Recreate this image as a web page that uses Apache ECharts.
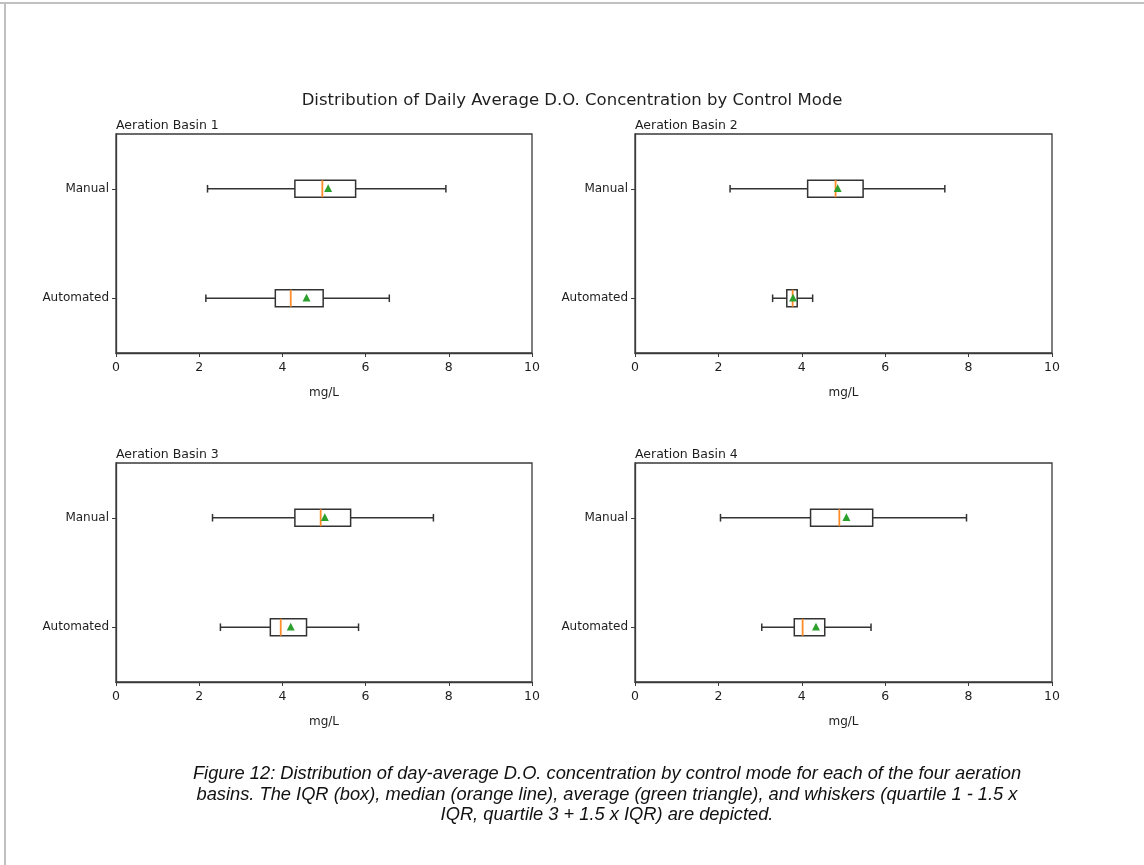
<!DOCTYPE html>
<html>
<head>
<meta charset="utf-8">
<script src="https://cdn.jsdelivr.net/npm/echarts@6/dist/echarts.min.js"></script>
<style>
html,body{margin:0;padding:0;background:#fff;}
#chart{width:1144px;height:865px;}
</style>
</head>
<body>
<div id="chart"></div>
<script>
// ---- data ----
const categories = ['Automated', 'Manual'];
const basinTitles = ['Aeration Basin 1', 'Aeration Basin 2', 'Aeration Basin 3', 'Aeration Basin 4'];
const xTicks = [0, 2, 4, 6, 8, 10];
// each row: [low whisker, Q1, median, Q3, high whisker, mean]
const basin1Automated = [2.16, 3.83, 4.20, 4.98, 6.57, 4.58];
const basin1Manual    = [2.20, 4.30, 4.96, 5.76, 7.93, 5.10];
const basin2Automated = [3.30, 3.64, 3.78, 3.89, 4.26, 3.79];
const basin2Manual    = [2.28, 4.14, 4.81, 5.47, 7.43, 4.86];
const basin3Automated = [2.51, 3.71, 3.96, 4.58, 5.83, 4.20];
const basin3Manual    = [2.32, 4.30, 4.92, 5.64, 7.63, 5.02];
const basin4Automated = [3.04, 3.82, 4.02, 4.55, 5.66, 4.34];
const basin4Manual    = [2.05, 4.21, 4.90, 5.70, 7.95, 5.07];
const figureTitle = 'Distribution of Daily Average D.O. Concentration by Control Mode';
const xAxisName = 'mg/L';
const captionLines = [
  'Figure 12: Distribution of day-average D.O. concentration by control mode for each of the four aeration',
  'basins. The IQR (box), median (orange line), average (green triangle), and whiskers (quartile 1 - 1.5 x',
  'IQR, quartile 3 + 1.5 x IQR) are depicted.'
];

const basinData = [
  [basin1Automated, basin1Manual],
  [basin2Automated, basin2Manual],
  [basin3Automated, basin3Manual],
  [basin4Automated, basin4Manual]
];

const chart = echarts.init(document.getElementById('chart'), null, {renderer: 'canvas'});

const gridPos = [
  {left: 116, top: 134, width: 416, height: 219},
  {left: 635, top: 134, width: 417, height: 219},
  {left: 116, top: 463, width: 416, height: 219},
  {left: 635, top: 463, width: 417, height: 219}
];
const FONT = 'DejaVu Sans';
const AX = '#3a3a3a';
const TXT = '#1e1e1e';

const grids = [], xAxes = [], yAxes = [], series = [], titles = [];

titles.push({
  text: figureTitle, left: 'center', top: 87,
  textStyle: {fontFamily: FONT, fontSize: 16.5, fontWeight: 'normal', color: TXT}
});

gridPos.forEach((g, i) => {
  grids.push(Object.assign({show: true, borderColor: AX, borderWidth: 1.3, backgroundColor: '#fff'}, g));
  titles.push({
    text: basinTitles[i], left: g.left - 5, top: g.top - 20,
    textStyle: {fontFamily: FONT, fontSize: 12.5, fontWeight: 'normal', color: TXT}
  });
  xAxes.push({
    type: 'value', gridIndex: i, min: 0, max: 10, interval: 2,
    name: xAxisName, nameLocation: 'middle', nameGap: 34,
    nameTextStyle: {fontFamily: FONT, fontSize: 12, color: TXT},
    axisLine: {show: true, lineStyle: {color: AX, width: 1.3}},
    axisTick: {show: true, inside: false, length: 4, lineStyle: {color: AX}},
    axisLabel: {fontFamily: FONT, fontSize: 12.5, color: TXT, margin: 8,
      formatter: v => xTicks.indexOf(v) >= 0 ? String(v) : ''},
    splitLine: {show: false}
  });
  yAxes.push({
    type: 'category', gridIndex: i, data: categories, boundaryGap: true,
    axisLine: {show: true, lineStyle: {color: AX, width: 1.3}},
    axisTick: {show: true, alignWithLabel: true, length: 4, lineStyle: {color: AX}},
    axisLabel: {fontFamily: FONT, fontSize: 12, color: TXT, margin: 7},
    splitLine: {show: false}
  });
  const rows = basinData[i].map((d, ci) => [ci].concat(d));
  series.push({
    type: 'custom', xAxisIndex: i, yAxisIndex: i,
    encode: {x: [1, 2, 3, 4, 5, 6], y: 0},
    data: rows,
    renderItem: function (params, api) {
      const c = api.value(0);
      const pLo = api.coord([api.value(1), c]);
      const pQ1 = api.coord([api.value(2), c]);
      const pMed = api.coord([api.value(3), c]);
      const pQ3 = api.coord([api.value(4), c]);
      const pHi = api.coord([api.value(5), c]);
      const pMean = api.coord([api.value(6), c]);
      const y = pQ1[1];
      const hb = 8.5, hc = 3.8;
      const black = {stroke: '#333', lineWidth: 1.5, fill: null};
      return {
        type: 'group',
        children: [
          {type: 'line', shape: {x1: pLo[0], y1: y, x2: pQ1[0], y2: y}, style: black},
          {type: 'line', shape: {x1: pQ3[0], y1: y, x2: pHi[0], y2: y}, style: black},
          {type: 'line', shape: {x1: pLo[0], y1: y - hc, x2: pLo[0], y2: y + hc}, style: black},
          {type: 'line', shape: {x1: pHi[0], y1: y - hc, x2: pHi[0], y2: y + hc}, style: black},
          {type: 'rect', shape: {x: pQ1[0], y: y - hb, width: pQ3[0] - pQ1[0], height: 2 * hb}, style: {stroke: '#333', lineWidth: 1.5, fill: 'transparent'}},
          {type: 'line', shape: {x1: pMed[0], y1: y - hb, x2: pMed[0], y2: y + hb}, style: {stroke: '#ff8c28', lineWidth: 1.8}},
          {type: 'polygon', shape: {points: [[pMean[0], y - 4.5], [pMean[0] - 4, y + 3.2], [pMean[0] + 4, y + 3.2]]}, style: {fill: '#2ca02c', stroke: null}}
        ]
      };
    }
  });
});

const graphics = [
  {type: 'line', shape: {x1: 0, y1: 3, x2: 1144, y2: 3}, style: {stroke: '#c0c0c0', lineWidth: 2}},
  {type: 'line', shape: {x1: 5, y1: 3, x2: 5, y2: 865}, style: {stroke: '#c0c0c0', lineWidth: 2}}
];
captionLines.forEach((t, i) => {
  graphics.push({
    type: 'text', x: 607, y: 765 + i * 20.5,
    style: {text: t, font: 'italic 18.3px "Liberation Sans", Arial, sans-serif', fill: '#111', textAlign: 'center', textVerticalAlign: 'top'}
  });
});

chart.setOption({
  backgroundColor: '#fff',
  animation: false,
  title: titles,
  grid: grids,
  xAxis: xAxes,
  yAxis: yAxes,
  series: series,
  graphic: graphics
});
</script>
</body>
</html>
